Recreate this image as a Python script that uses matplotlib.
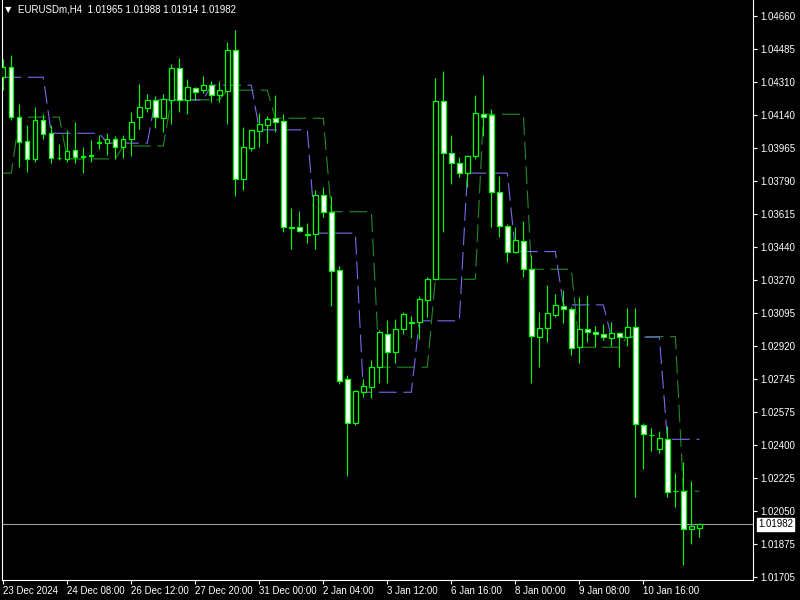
import matplotlib
matplotlib.use("Agg")
import matplotlib.pyplot as plt
import matplotlib.transforms as mtransforms
import numpy as np

plt.rcParams['font.family'] = ['Liberation Sans', 'DejaVu Sans']

# EURUSDm H4 bars
opens = [1.04337, 1.04390, 1.04127, 1.04002, 1.03905, 1.04112, 1.04042, 1.03912, 1.03905, 1.03954,
         1.03923, 1.03928, 1.03995, 1.03990, 1.04012, 1.03972, 1.04010, 1.04130, 1.04177, 1.04218,
         1.04124, 1.04218, 1.04385, 1.04218, 1.04279, 1.04272, 1.04297, 1.04246, 1.04267, 1.04481,
         1.03803, 1.03966, 1.04056, 1.04086, 1.04121, 1.04107, 1.03549, 1.03550, 1.03510, 1.03512,
         1.03717, 1.03629, 1.03322, 1.02748, 1.02515, 1.02678, 1.02708, 1.02810, 1.02984, 1.02892,
         1.03010, 1.03050, 1.03050, 1.03164, 1.03273, 1.04214, 1.03937, 1.03884, 1.03832, 1.03924,
         1.04142, 1.04139, 1.03731, 1.03554, 1.03419, 1.03473, 1.03326, 1.02971, 1.03018, 1.03085,
         1.03134, 1.03115, 1.02915, 1.03010, 1.02994, 1.02984, 1.02966, 1.02989, 1.02971, 1.03020,
         1.02504, 1.02454, 1.02378, 1.02430, 1.02158, 1.02157, 1.01956, 1.01965]
highs = [1.04434, 1.04455, 1.04197, 1.04086, 1.04179, 1.04144, 1.04086, 1.03986, 1.04060, 1.04102,
         1.03968, 1.04007, 1.04033, 1.04042, 1.04028, 1.04033, 1.04153, 1.04302, 1.04249, 1.04239,
         1.04249, 1.04407, 1.04437, 1.04327, 1.04288, 1.04344, 1.04318, 1.04318, 1.04523, 1.04586,
         1.04077, 1.04066, 1.04148, 1.04133, 1.04244, 1.04144, 1.03650, 1.03633, 1.03571, 1.03744,
         1.03758, 1.03712, 1.03343, 1.02769, 1.02690, 1.02747, 1.02848, 1.03006, 1.03059, 1.03064,
         1.03099, 1.03080, 1.03185, 1.03287, 1.04332, 1.04370, 1.04033, 1.03919, 1.03928, 1.04244,
         1.04349, 1.04169, 1.03817, 1.03564, 1.03550, 1.03580, 1.03401, 1.03103, 1.03243, 1.03196,
         1.03217, 1.03126, 1.03178, 1.03190, 1.03027, 1.03038, 1.03050, 1.02997, 1.03121, 1.03121,
         1.02515, 1.02488, 1.02474, 1.02501, 1.02255, 1.02313, 1.02211, 1.01988]
lows = [1.04270, 1.04112, 1.03866, 1.03840, 1.03893, 1.04014, 1.03887, 1.03902, 1.03893, 1.03887,
        1.03835, 1.03893, 1.03961, 1.03928, 1.03905, 1.03914, 1.03924, 1.04063, 1.04156, 1.04069,
        1.04051, 1.04090, 1.04156, 1.04144, 1.04218, 1.04256, 1.04209, 1.04209, 1.04091, 1.03712,
        1.03744, 1.03951, 1.03972, 1.03993, 1.04051, 1.03524, 1.03433, 1.03524, 1.03466, 1.03433,
        1.03600, 1.03134, 1.02722, 1.02239, 1.02506, 1.02655, 1.02646, 1.02729, 1.02729, 1.02834,
        1.02985, 1.02962, 1.02957, 1.03076, 1.03270, 1.03524, 1.03774, 1.03814, 1.03761, 1.03905,
        1.04028, 1.03550, 1.03494, 1.03363, 1.03413, 1.03287, 1.02729, 1.02810, 1.02945, 1.03076,
        1.03045, 1.02874, 1.02834, 1.02945, 1.02915, 1.02954, 1.02922, 1.02810, 1.02922, 1.02128,
        1.02274, 1.02369, 1.02360, 1.02128, 1.02076, 1.01768, 1.01879, 1.01914]
closes = [1.04390, 1.04127, 1.03998, 1.03908, 1.04112, 1.04040, 1.03911, 1.03910, 1.03949, 1.03919,
          1.03919, 1.03923, 1.03991, 1.04012, 1.03972, 1.04012, 1.04100, 1.04179, 1.04218, 1.04127,
          1.04221, 1.04385, 1.04218, 1.04285, 1.04258, 1.04297, 1.04246, 1.04270, 1.04481, 1.03803,
          1.03972, 1.04060, 1.04091, 1.04116, 1.04103, 1.03550, 1.03545, 1.03529, 1.03508, 1.03717,
          1.03629, 1.03319, 1.02739, 1.02515, 1.02685, 1.02711, 1.02810, 1.02994, 1.02888, 1.03010,
          1.03089, 1.03042, 1.03168, 1.03273, 1.04214, 1.03937, 1.03884, 1.03835, 1.03924, 1.04148,
          1.04130, 1.03731, 1.03554, 1.03419, 1.03479, 1.03326, 1.02976, 1.03015, 1.03094, 1.03138,
          1.03115, 1.02910, 1.03010, 1.02997, 1.02984, 1.02968, 1.02989, 1.02968, 1.03020, 1.02510,
          1.02457, 1.02452, 1.02436, 1.02155, 1.02156, 1.01956, 1.01974, 1.01982]

# the two dashed indicator lines
blue_line = [1.04337, 1.04337, 1.04337, 1.04337, 1.04337, 1.04337, 1.04042, 1.04042, 1.04042, 1.04042,
             1.04042, 1.04042, 1.04042, 1.03990, 1.03990, 1.03990, 1.03990, 1.03990, 1.03990, 1.04218,
             1.04218, 1.04218, 1.04218, 1.04218, 1.04218, 1.04218, 1.04295, 1.04295, 1.04295, 1.04295,
             1.04295, 1.04295, 1.04060, 1.04060, 1.04060, 1.04060, 1.04060, 1.04060, 1.04060, 1.03516,
             1.03516, 1.03516, 1.03516, 1.03516, 1.03516, 1.02678, 1.02678, 1.02678, 1.02678, 1.02678,
             1.02678, 1.02678, 1.03054, 1.03054, 1.03054, 1.03054, 1.03054, 1.03054, 1.03832, 1.03832,
             1.03832, 1.03832, 1.03832, 1.03832, 1.03419, 1.03419, 1.03419, 1.03419, 1.03419, 1.03419,
             1.03138, 1.03138, 1.03138, 1.03138, 1.03138, 1.03138, 1.02968, 1.02968, 1.02968, 1.02968,
             1.02968, 1.02968, 1.02968, 1.02430, 1.02430, 1.02430, 1.02430, 1.02430]
green_line = [1.03832, 1.03832, 1.04127, 1.04127, 1.04127, 1.04127, 1.04127, 1.04127, 1.03907, 1.03907,
              1.03907, 1.03907, 1.03907, 1.03907, 1.03907, 1.03975, 1.03975, 1.03975, 1.03975, 1.03975,
              1.03975, 1.04218, 1.04218, 1.04218, 1.04218, 1.04218, 1.04218, 1.04218, 1.04269, 1.04269,
              1.04269, 1.04269, 1.04269, 1.04269, 1.04121, 1.04121, 1.04121, 1.04121, 1.04121, 1.04121,
              1.04121, 1.03629, 1.03629, 1.03629, 1.03629, 1.03629, 1.03629, 1.02810, 1.02810, 1.02810,
              1.02810, 1.02810, 1.02810, 1.02810, 1.03273, 1.03273, 1.03273, 1.03273, 1.03273, 1.03273,
              1.04142, 1.04142, 1.04142, 1.04142, 1.04142, 1.04142, 1.03326, 1.03326, 1.03326, 1.03326,
              1.03326, 1.03326, 1.02915, 1.02915, 1.02915, 1.02915, 1.02915, 1.02915, 1.02971, 1.02971,
              1.02971, 1.02971, 1.02971, 1.02971, 1.02971, 1.02157, 1.02157, 1.02157]

date_labels = ["23 Dec 2024", "24 Dec 08:00", "26 Dec 12:00", "27 Dec 20:00", "31 Dec 00:00",
               "2 Jan 04:00", "3 Jan 12:00", "6 Jan 16:00", "8 Jan 00:00", "9 Jan 08:00", "10 Jan 16:00"]
price_labels = ["1.04660", "1.04485", "1.04310", "1.04140", "1.03965", "1.03790", "1.03615", "1.03440",
                "1.03270", "1.03095", "1.02920", "1.02745", "1.02575", "1.02400", "1.02225", "1.02050",
                "1.01875", "1.01705"]
title = "EURUSDm,H4  1.01965 1.01988 1.01914 1.01982"
last_price = 1.01982

lime = "#00ff00"
fig = plt.figure(figsize=(8, 6), dpi=100, facecolor="black")
ax = fig.add_axes([2 / 800, 20 / 600, 751 / 800, 580 / 600])
ax.set_facecolor("black")

x = np.arange(len(opens))
o = np.array(opens)
h = np.array(highs)
l = np.array(lows)
c = np.array(closes)
bull = c >= o

# indicator lines behind the candles
ax.plot(x, green_line, color="#228b22", lw=0.8, dashes=(16, 6), zorder=1)
ax.plot(x, blue_line, color="#7b68ee", lw=0.8, dashes=(16, 6), zorder=1)

ax.vlines(x, l, h, color=lime, lw=0.8, zorder=2)
bottom = np.minimum(o, c)
height = np.abs(c - o)
ax.bar(x[bull], height[bull], bottom=bottom[bull], width=0.55, color="black",
       edgecolor=lime, linewidth=0.9, zorder=3)
ax.bar(x[~bull], height[~bull], bottom=bottom[~bull], width=0.55, color="white",
       edgecolor=lime, linewidth=0.9, zorder=3)

# current price line and box
ax.axhline(last_price, color="#a0a0a0", lw=0.8, zorder=0)
ax.annotate("%.5f" % last_price, xy=(1, last_price), xycoords=("axes fraction", "data"),
            xytext=(5, 0), textcoords="offset pixels", va="center", ha="left",
            color="black", fontsize=7, annotation_clip=False,
            bbox=dict(boxstyle="square,pad=0.15", fc="white", ec="white"))

ax.set_xlim(-0.16, 93.7)
ax.set_ylim(1.01689, 1.04744)

ax.yaxis.tick_right()
ax.set_yticks(np.linspace(1.04660, 1.01705, len(price_labels)))
ax.set_yticklabels(price_labels)
ax.set_xticks(np.arange(0, 8 * len(date_labels), 8))
ax.set_xticklabels(date_labels, ha="left")
ax.tick_params(colors="white", labelcolor="white", labelsize=7, length=3, width=0.8)
ax.tick_params(axis="y", pad=2)
ax.tick_params(axis="x", pad=1)

for side in ["left", "right", "bottom"]:
    ax.spines[side].set_color("white")
    ax.spines[side].set_linewidth(0.8)
ax.spines["top"].set_visible(False)

fig.text(5 / 800, 1 - 10 / 600, "\u25bc", color="white", fontsize=6, va="center",
         family="DejaVu Sans")
fig.text(18 / 800, 1 - 10 / 600, title, color="white", fontsize=7, va="center")

fig.savefig("out.png", dpi=100, facecolor="black")
